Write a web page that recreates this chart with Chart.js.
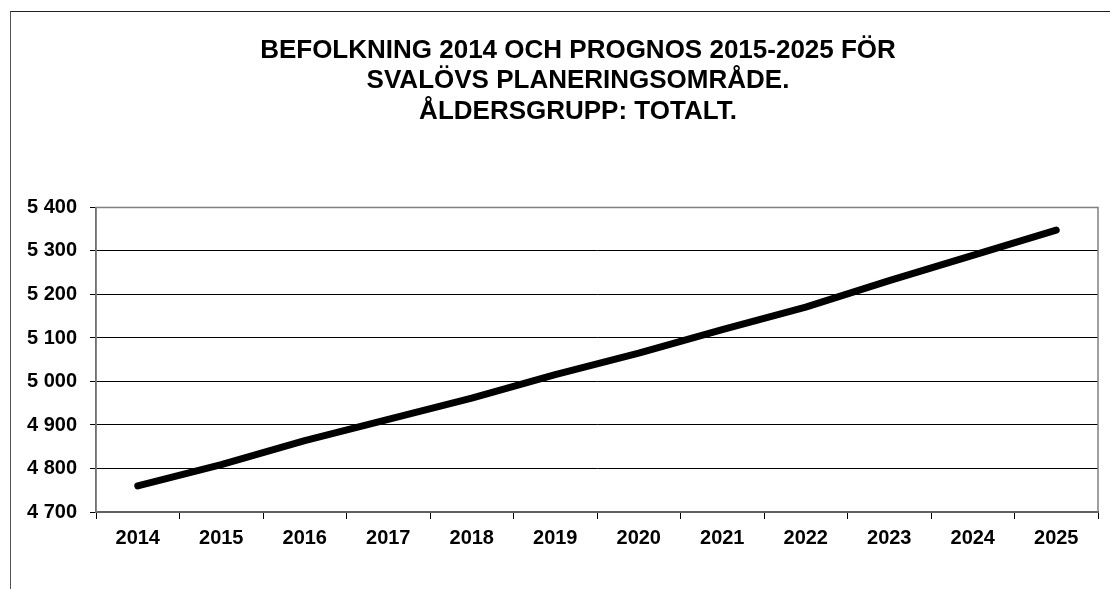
<!DOCTYPE html>
<html>
<head>
<meta charset="utf-8">
<script src="https://cdn.jsdelivr.net/npm/chart.js@4/dist/chart.umd.min.js"></script>
<style>
  html, body { margin: 0; padding: 0; background: #fff; overflow: hidden; }
  #wrap { position: relative; width: 1110px; height: 589px; }
  #frame { position: absolute; left: 10px; top: 11px; width: 1200px; height: 700px;
           border-top: 1px solid #222; border-left: 1px solid #555; }
  canvas { position: absolute; left: 0; top: 0; }
</style>
</head>
<body>
<div id="wrap">
  <div id="frame"></div>
  <canvas id="chart" width="1110" height="589"></canvas>
</div>
<script>
// data
const years = ['2014', '2015', '2016', '2017', '2018', '2019', '2020', '2021', '2022', '2023', '2024', '2025'];
const population = [4760, 4809, 4864, 4913, 4962, 5016, 5065, 5119, 5171, 5232, 5290, 5348];
const titleLines = ['BEFOLKNING 2014 OCH PROGNOS 2015-2025 FÖR', 'SVALÖVS PLANERINGSOMRÅDE.', 'ÅLDERSGRUPP: TOTALT.'];
const yMin = 4700, yMax = 5400, yStep = 100;

const fontName = '"Liberation Sans", Arial, sans-serif';

// grey frame round the plot area, title centred a bit right of the canvas
const plotFrame = {
    id: 'plotFrame',
    afterLayout(chart) {
        if (chart.titleBlock) chart.titleBlock.left = 58;
    },
    beforeDatasetsDraw(chart) {
        const a = chart.chartArea, c = chart.ctx;
        c.save();
        c.strokeStyle = '#808080';
        c.lineWidth = 1.5;
        c.strokeRect(a.left, a.top, a.right - a.left, a.bottom - a.top);
        c.restore();
    }
};

new Chart(document.getElementById('chart'), {
    type: 'line',
    data: {
        labels: years,
        datasets: [{
            data: population,
            borderColor: '#000',
            borderWidth: 7,
            borderCapStyle: 'round',
            borderJoinStyle: 'round',
            pointRadius: 0,
            tension: 0,
            fill: false
        }]
    },
    options: {
        responsive: false,
        animation: false,
        devicePixelRatio: 1,
        layout: { padding: { left: 0, right: 12, top: 0, bottom: 0 } },
        plugins: {
            legend: { display: false },
            tooltip: { enabled: false },
            title: {
                display: true,
                text: titleLines,
                color: '#000',
                font: { family: fontName, size: 26, weight: 'bold', lineHeight: 1.16 },
                padding: { top: 36, bottom: 81 }
            }
        },
        scales: {
            x: {
                offset: true,
                afterFit(s) { s.height = 77; },
                grid: { offset: true, drawOnChartArea: false, drawTicks: true, tickLength: 7, color: '#000', lineWidth: 1 },
                border: { color: '#000', width: 1.5 },
                ticks: { color: '#000', padding: 7, maxRotation: 0, font: { family: fontName, size: 20, weight: 'bold' } }
            },
            y: {
                min: yMin,
                max: yMax,
                afterFit(s) { s.width = 96; },
                grid: { color: '#000', lineWidth: 1, tickLength: 6 },
                border: { color: '#404040', width: 1.5 },
                ticks: {
                    stepSize: yStep,
                    color: '#000',
                    padding: 13,
                    font: { family: fontName, size: 20, weight: 'bold' },
                    callback: v => String(v).replace(/\B(?=(\d{3})+(?!\d))/g, ' ')
                }
            }
        }
    },
    plugins: [plotFrame]
});
</script>
</body>
</html>
